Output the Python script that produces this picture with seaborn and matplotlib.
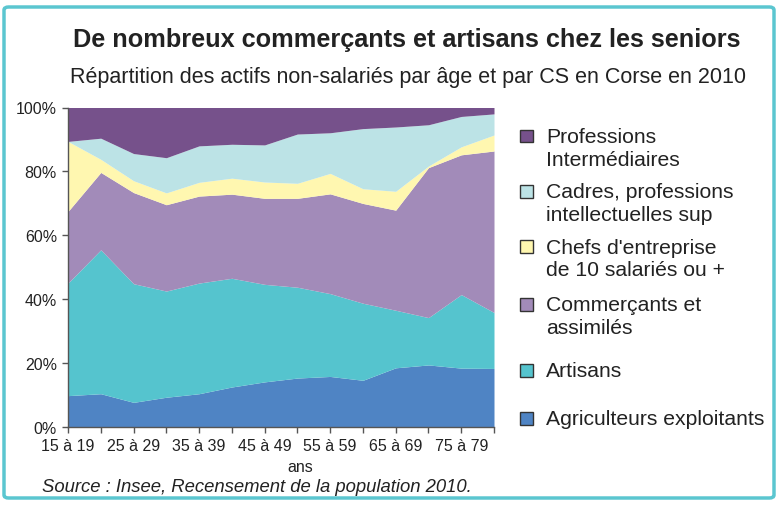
import numpy as np
import pandas as pd
import matplotlib
matplotlib.use("Agg")
import matplotlib.pyplot as plt
import seaborn as sns
from matplotlib.patches import FancyBboxPatch, Rectangle

ages = ["15 à 19", "20 à 24", "25 à 29", "30 à 34", "35 à 39", "40 à 44", "45 à 49",
        "50 à 54", "55 à 59", "60 à 64", "65 à 69", "70 à 74", "75 à 79", "80 ou +"]
agriculteurs = [9.9, 10.5, 7.8, 9.4, 10.5, 12.6, 14.2, 15.4, 15.9, 14.7, 18.6, 19.5, 18.5, 18.4]
artisans = [35.2, 45.0, 37.1, 33.2, 34.6, 34.0, 30.5, 28.4, 25.9, 24.1, 18.0, 14.8, 23.0, 17.5]
commercants = [22.4, 24.2, 28.5, 27.0, 27.2, 26.3, 26.9, 27.8, 31.2, 31.2, 31.3, 46.9, 43.7, 50.5]
chefs = [21.9, 4.1, 3.7, 3.7, 4.3, 5.0, 5.1, 4.7, 6.4, 4.6, 5.9, 0.5, 2.5, 5.0]
cadres = [0.0, 6.6, 8.5, 11.0, 11.4, 10.6, 11.6, 15.4, 12.7, 18.8, 20.1, 12.9, 9.5, 6.6]
prof_inter = [10.6, 9.6, 14.4, 15.7, 12.0, 11.5, 11.7, 8.3, 7.9, 6.6, 6.1, 5.4, 2.8, 2.0]

labels = ["Agriculteurs exploitants", "Artisans", "Commerçants et\nassimilés",
          "Chefs d'entreprise\nde 10 salariés ou +", "Cadres, professions\nintellectuelles sup",
          "Professions\nIntermédiaires"]
colors = ["#4F84C4", "#55C4CE", "#A28BB9", "#FFF7B0", "#BCE3E6", "#76518B"]
yticks = [0, 20, 40, 60, 80, 100]
ytick_labels = ["0%", "20%", "40%", "60%", "80%", "100%"]

df = pd.DataFrame({"age": ages, "a": agriculteurs, "b": artisans, "c": commercants,
                   "d": chefs, "e": cadres, "f": prof_inter})
vals = df[["a", "b", "c", "d", "e", "f"]].to_numpy()
vals = vals / vals.sum(axis=1, keepdims=True) * 100

sns.set_theme(style="white")
plt.rcParams["font.family"] = ["Liberation Sans", "DejaVu Sans"]

fig = plt.figure(figsize=(7.78, 5.06), dpi=100)
ax = fig.add_axes([68 / 778, 1 - 428.3 / 506, (494 - 68) / 778, (428.3 - 108.5) / 506])

x = np.arange(len(ages))
ax.stackplot(x, vals.T, colors=sns.color_palette(colors), linewidth=0)

ax.set_xlim(0, len(ages) - 1)
ax.set_ylim(0, 100)
ax.set_xticks(x)
ax.set_xticklabels([a if i % 2 == 0 else "" for i, a in enumerate(ages)], fontsize=11.5)
ax.set_yticks(yticks)
ax.set_yticklabels(ytick_labels, fontsize=11.5)
ax.tick_params(axis="both", direction="out", length=4, width=1, color="#555555",
               left=True, bottom=True, pad=4, labelcolor="#222222")
sns.despine(ax=ax, top=True, right=True)
for s in ["left", "bottom"]:
    ax.spines[s].set_color("#555555")
    ax.spines[s].set_linewidth(1)
ax.set_xlabel("ans", fontsize=11.5, color="#222222")
ax.xaxis.set_label_coords((300 - 68) / 426, -(467.7 - 428.3) / 319.8)
ax.xaxis.label.set_va("center")

fig.text(407 / 778, 1 - 40 / 506, "De nombreux commerçants et artisans chez les seniors",
         ha="center", va="center", fontsize=18.2, fontweight="bold", color="#222222")
fig.text(408 / 778, 1 - 78 / 506, "Répartition des actifs non-salariés par âge et par CS en Corse en 2010",
         ha="center", va="center", fontsize=15.5, color="#222222")
fig.text(42 / 778, 1 - 488 / 506, "Source : Insee, Recensement de la population 2010.",
         ha="left", va="center", fontsize=13.3, style="italic", color="#222222")

# legend (top = last series)
sq_tops = [130.5, 186, 241, 299, 365, 413]
for i, top in enumerate(sq_tops):
    k = len(labels) - 1 - i
    fig.patches.append(Rectangle((520 / 778, 1 - (top + 12.5) / 506), 13 / 778, 12.5 / 506,
                                 transform=fig.transFigure, facecolor=colors[k],
                                 edgecolor="#333333", linewidth=1))
    fig.text(546 / 778, 1 - (top - 2.5) / 506, labels[k], ha="left", va="top",
             fontsize=15.2, linespacing=1.25, color="#222222")

fig.patches.append(FancyBboxPatch((4 / 778, 7 / 506), 770 / 778, 491 / 506,
                                  boxstyle="round,pad=0,rounding_size=0.006",
                                  transform=fig.transFigure, facecolor="none",
                                  edgecolor="#5BC6D0", linewidth=2.5))

fig.savefig("out.png", dpi=100)
